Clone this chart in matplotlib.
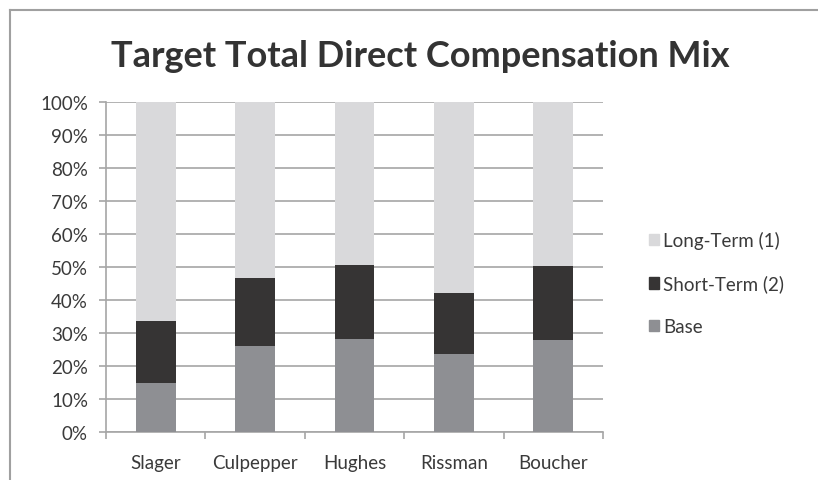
import matplotlib
matplotlib.use("Agg")
import matplotlib.pyplot as plt
from matplotlib.patches import Rectangle
from matplotlib.lines import Line2D
import numpy as np

categories = ["Slager", "Culpepper", "Hughes", "Rissman", "Boucher"]
base = [14.7, 26.2, 28.3, 23.7, 27.9]
short_term = [19.0, 20.4, 22.3, 18.5, 22.3]
long_term = [100 - b - s for b, s in zip(base, short_term)]
yticks = [0, 10, 20, 30, 40, 50, 60, 70, 80, 90, 100]
title = "Target Total Direct Compensation Mix"
series_names = ["Long-Term (1)", "Short-Term (2)", "Base"]

c_long = "#d9d9db"
c_short = "#363434"
c_base = "#8e8f93"
grid_c = "#a6a6a6"
text_c = "#3a3a3a"

plt.rcParams['font.family'] = ['Lato', 'DejaVu Sans']

fig = plt.figure(figsize=(8.18, 4.81), dpi=100)
ax = fig.add_axes([106/818, 1-433/481, (603-106)/818, (433-103)/481])

x = np.arange(len(categories))
w = 0.4
ax.bar(x, base, w, color=c_base, zorder=3, label="Base")
ax.bar(x, short_term, w, bottom=base, color=c_short, zorder=3, label="Short-Term (2)")
bot2 = [b + s for b, s in zip(base, short_term)]
ax.bar(x, long_term, w, bottom=bot2, color=c_long, zorder=3, label="Long-Term (1)")

fs = 13.5
ax.set_xlim(-0.5, len(categories) - 0.5)
ax.set_ylim(0, 100)
ax.set_yticks(yticks)
ax.set_yticklabels([f"{v}%" for v in yticks], fontsize=fs, color=text_c)
ax.yaxis.grid(True, color=grid_c, linewidth=1.2, zorder=0)
ax.set_xticks(x)
ax.set_xticklabels(categories, fontsize=fs, color=text_c)
ax.tick_params(axis='x', which='major', length=0, pad=16)
ax.set_xticks(np.arange(-0.5, len(categories), 1.0), minor=True)
ax.tick_params(axis='x', which='minor', length=5, color=grid_c, width=1.2)
ax.tick_params(axis='y', length=5, color=grid_c, width=1.2, pad=8)
for s in ['top', 'right']:
    ax.spines[s].set_visible(False)
for s in ['left', 'bottom']:
    ax.spines[s].set_color(grid_c)
    ax.spines[s].set_linewidth(1.2)

fig.text(420/818, 1-57/481, title, ha='center', va='center', fontsize=26,
         fontweight='bold', color="#333333")

# legend
handles = [Rectangle((0, 0), 1, 1, color=c) for c in (c_long, c_short, c_base)]
leg = fig.legend(handles, series_names, loc='center left',
                 bbox_to_anchor=(632/818, 1-284/481), frameon=False,
                 fontsize=fs, handlelength=0.55, handleheight=0.55,
                 handletextpad=0.2, labelspacing=1.35, labelcolor=text_c)

# border
fig.add_artist(Line2D([10/818, 10/818], [0, 1-11/481], transform=fig.transFigure,
                      color="#a0a0a0", linewidth=1.5))
fig.add_artist(Line2D([10/818, 1], [1-11/481, 1-11/481], transform=fig.transFigure,
                      color="#a0a0a0", linewidth=1.5))

fig.savefig("out.png", dpi=100)
